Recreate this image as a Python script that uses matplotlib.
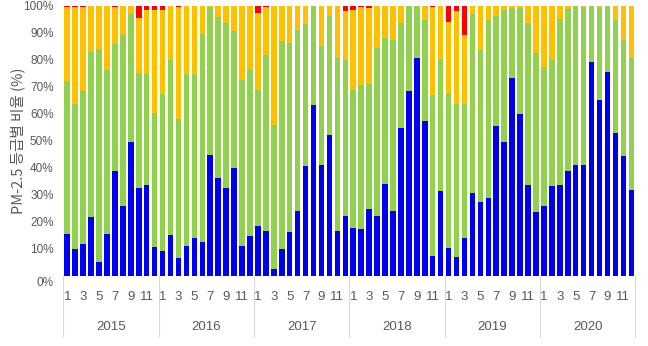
import matplotlib

matplotlib.use("Agg")
import matplotlib.pyplot as plt  # noqa: E402
import matplotlib.transforms as mtransforms  # noqa: E402
from matplotlib import font_manager  # noqa: E402
import numpy as np  # noqa: E402

# narrow face if the box has it, plain Liberation Sans otherwise
try:
    font_manager.findfont("Liberation Sans Narrow", fallback_to_default=False)
    base_font = "Liberation Sans Narrow"
except ValueError:
    base_font = "Liberation Sans"
plt.rcParams["font.family"] = [base_font, "Noto Sans CJK KR", "DejaVu Sans"]

years = ["2015", "2016", "2017", "2018", "2019", "2020"]
months = list(range(1, 13))

# share of days per grade (%), Jan 2015 .. Dec 2020
good = [
    15.6, 10.0, 11.9, 21.7, 5.1, 15.6, 39.0, 25.8, 49.5, 32.6, 33.8, 10.6,
    9.1, 15.2, 6.8, 11.1, 14.0, 12.7, 44.6, 36.2, 32.5, 40.1, 11.1, 14.7,
    18.6, 16.8, 2.5, 10.0, 16.4, 24.2, 40.5, 63.1, 40.9, 52.3, 16.8, 22.0,
    17.8, 17.4, 24.6, 22.0, 34.0, 24.2, 54.8, 68.4, 80.6, 57.2, 7.5, 31.4,
    10.4, 7.2, 14.0, 30.6, 27.5, 29.0, 55.3, 49.5, 73.3, 60.0, 33.5, 23.5,
    25.8, 33.3, 33.8, 39.0, 40.9, 40.9, 79.1, 65.2, 75.4, 52.8, 44.2, 31.9,
]
normal = [
    56.4, 53.7, 56.4, 61.1, 79.0, 60.7, 46.7, 63.2, 47.3, 42.4, 40.8, 49.8,
    58.3, 64.6, 51.1, 63.5, 60.6, 76.6, 54.7, 59.6, 61.2, 50.4, 61.2, 61.3,
    50.3, 64.8, 53.5, 76.9, 69.9, 66.7, 52.5, 36.9, 44.0, 43.9, 63.9, 57.8,
    51.1, 53.1, 46.3, 62.3, 54.0, 63.0, 38.8, 31.5, 19.4, 37.4, 59.3, 49.0,
    57.3, 56.5, 49.7, 66.4, 56.2, 65.6, 40.9, 48.8, 25.6, 38.9, 60.1, 59.1,
    51.5, 46.7, 61.1, 59.6, 59.0, 58.6, 20.8, 33.7, 24.5, 41.8, 43.2, 48.7,
]
bad = [
    27.5, 35.9, 31.0, 16.9, 15.6, 23.7, 13.8, 11.0, 3.2, 20.2, 23.7, 38.1,
    30.9, 20.2, 41.6, 25.4, 25.4, 10.7, 0.7, 4.2, 6.3, 9.5, 27.7, 23.7,
    28.4, 17.7, 44.0, 13.1, 13.7, 9.1, 7.0, 0.0, 15.1, 3.8, 19.3, 18.2,
    29.4, 29.1, 28.0, 15.7, 12.0, 12.8, 6.4, 0.1, 0.0, 5.4, 32.5, 19.3,
    26.3, 34.2, 25.3, 3.0, 16.3, 5.4, 3.8, 1.7, 1.1, 1.1, 6.4, 17.1,
    22.7, 20.0, 5.1, 1.4, 0.1, 0.5, 0.1, 1.1, 0.1, 5.4, 12.6, 19.4,
]
very_bad = [
    0.5, 0.4, 0.7, 0.3, 0.3, 0.0, 0.5, 0.0, 0.0, 4.8, 1.7, 1.5,
    1.7, 0.0, 0.5, 0.0, 0.0, 0.0, 0.0, 0.0, 0.0, 0.0, 0.0, 0.3,
    2.7, 0.7, 0.0, 0.0, 0.0, 0.0, 0.0, 0.0, 0.0, 0.0, 0.0, 2.0,
    1.7, 0.4, 1.1, 0.0, 0.0, 0.0, 0.0, 0.0, 0.0, 0.0, 0.7, 0.3,
    6.0, 2.1, 11.0, 0.0, 0.0, 0.0, 0.0, 0.0, 0.0, 0.0, 0.0, 0.3,
    0.0, 0.0, 0.0, 0.0, 0.0, 0.0, 0.0, 0.0, 0.0, 0.0, 0.0, 0.0,
]

colors = ["#0000F0", "#92D050", "#FFC000", "#FF0000"]
text_color = "#595959"

fig = plt.figure(figsize=(6.48, 3.46), dpi=100)
ax = fig.add_axes([63.3 / 648, 1 - 276 / 346, 572 / 648, 270.5 / 346])

x = np.arange(len(good))
bottom = np.zeros(len(good))
for series, color in zip([good, normal, bad, very_bad], colors):
    ax.bar(x, series, bottom=bottom, width=0.7, color=color, linewidth=0)
    bottom += np.array(series)

ax.set_xlim(-0.5, len(good) - 0.5)
ax.set_ylim(0, 100)
ax.set_yticks(range(0, 101, 10))
ax.set_yticklabels([f"{v}%" for v in range(0, 101, 10)])
ax.tick_params(axis="y", length=0, pad=7, labelsize=8.5, labelcolor=text_color)
# the 0% label sits a little under the baseline in the original
zero = ax.get_yticklabels()[0]
zero.set_transform(zero.get_transform() +
                   mtransforms.ScaledTranslation(0, -0.06, fig.dpi_scale_trans))

odd = [i for i in x if months[i % 12] % 2 == 1]
ax.set_xticks(odd)
ax.set_xticklabels([str(months[i % 12]) for i in odd])
ax.tick_params(axis="x", length=0, pad=11, labelsize=9.5, labelcolor=text_color)

for side in ["top", "right", "left", "bottom"]:
    ax.spines[side].set_visible(False)

ax.set_ylabel("PM-2.5 등급별 비율 (%)", fontsize=10.5, color=text_color,
              family=["Noto Sans CJK KR", "DejaVu Sans"])
ax.yaxis.set_label_coords(-0.066, 0.5)

# year groups under the month labels
trans = ax.get_xaxis_transform()
for k, year in enumerate(years):
    ax.text(12 * k + 5.5, -0.19, year, transform=trans, ha="center",
            va="center", fontsize=9.5, color=text_color)
for k in range(len(years) + 1):
    ax.plot([12 * k - 0.5, 12 * k - 0.5], [0, -0.225], transform=trans,
            color="#D9D9D9", linewidth=0.8, clip_on=False)

fig.savefig("out.png", dpi=100)
